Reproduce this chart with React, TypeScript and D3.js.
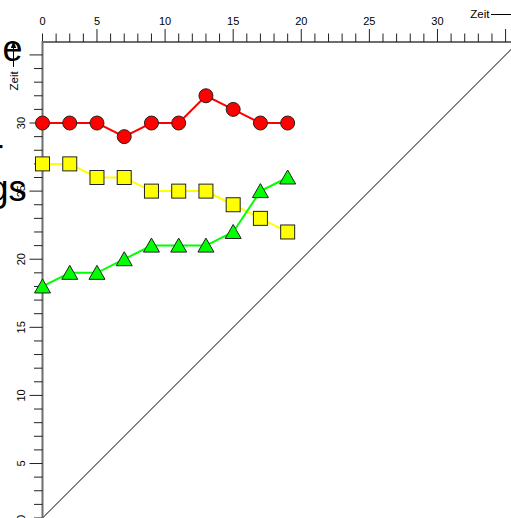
import React from 'react';
import * as d3 from 'd3';

const xValues = [1, 3, 5, 7, 9, 11, 13, 15, 17, 19];
const redValues = [30, 30, 30, 29, 30, 30, 32, 31, 30, 30];
const yellowValues = [27, 27, 26, 26, 25, 25, 25, 24, 23, 22];
const greenValues = [18, 19, 19, 20, 21, 21, 21, 22, 25, 26];
const tickValues = [1, 5, 10, 15, 20, 25, 30];
const tickLabels = ['0', '5', '10', '15', '20', '25', '30'];
const allTicks = d3.range(1, 36);
const axisTitle = 'Zeit';
const leftTexts = ['e', 'r', 'gs'];

const W = 511;
const H = 518;
const FONT = '"Liberation Sans", Arial, sans-serif';

export default function App() {
  const unit = 13.62;
  const left = 42.5;
  const top = 42;
  const bottom = 518;
  const x = d3.scaleLinear().domain([1, 36]).range([left, left + 35 * unit]);
  const y = d3.scaleLinear().domain([1, 1 + (bottom - top) / unit]).range([bottom, top]);

  const line = d3
    .line<number>()
    .x((_, i) => x(xValues[i]))
    .y((d) => y(d));

  const diag = d3
    .line<number>()
    .x((d) => x(d))
    .y((d) => y(d));

  const triPath = (cx: number, cy: number) =>
    `M${cx},${cy - 7.5}L${cx + 8},${cy + 6.5}L${cx - 8},${cy + 6.5}Z`;

  const leftPos = [
    { x: 22.5, y: 61 },
    { x: 3, y: 165 },
    { x: 26.5, y: 201 },
  ];

  return (
    <svg
      width={W}
      height={H}
      style={{ position: 'absolute', left: 0, top: 0, background: '#fff' }}
      fontFamily={FONT}
    >
      <defs>
        <clipPath id="plot">
          <rect x={left} y={top} width={W - left} height={bottom - top} />
        </clipPath>
      </defs>
      <rect x={0} y={0} width={W} height={H} fill="#fff" />

      {/* clipped left texts */}
      {leftTexts.map((t, i) => (
        <text
          key={t}
          x={leftPos[i].x}
          y={leftPos[i].y}
          fontSize={36}
          textAnchor="end"
          fill="#000"
        >
          {t}
        </text>
      ))}

      {/* diagonal */}
      <g clipPath="url(#plot)">
        <path d={diag([1, 36]) || ''} stroke="#000" strokeWidth={1} fill="none" />
      </g>

      {/* top axis */}
      <line x1={left} x2={W} y1={top} y2={top} stroke="#6e6e6e" strokeWidth={2} />
      {allTicks.map((v) => (
        <line
          key={'tx' + v}
          x1={x(v)}
          x2={x(v)}
          y1={top}
          y2={top - (v % 5 === 0 ? 13 : 8.5)}
          stroke="#222"
          strokeWidth={1}
        />
      ))}
      {tickValues.map((v, i) => (
        <text key={'lx' + v} x={x(v)} y={25} fontSize={11} textAnchor="middle" fill="#000">
          {tickLabels[i]}
        </text>
      ))}
      <text x={489.5} y={18} fontSize={11.5} textAnchor="end" fill="#000">
        {axisTitle}
      </text>
      <line x1={491} x2={W + 5} y1={14.5} y2={14.5} stroke="#000" strokeWidth={1} />

      {/* left axis */}
      <line x1={left} x2={left} y1={top - 1} y2={bottom} stroke="#6e6e6e" strokeWidth={2} />
      {allTicks.map((v) => (
        <line
          key={'ty' + v}
          x1={left}
          x2={left - (v % 5 === 0 ? 13 : 8.5)}
          y1={y(v)}
          y2={y(v)}
          stroke="#222"
          strokeWidth={1}
        />
      ))}
      {tickValues.map((v, i) => (
        <text
          key={'ly' + v}
          transform={`translate(24.5,${y(v)}) rotate(-90)`}
          fontSize={11}
          textAnchor="middle"
          fill="#000"
        >
          {tickLabels[i]}
        </text>
      ))}
      <text
        transform={`translate(17.5,90.5) rotate(-90)`}
        fontSize={11.5}
        textAnchor="start"
        fill="#000"
      >
        {axisTitle}
      </text>
      <line x1={13.5} x2={13.5} y1={67} y2={46} stroke="#000" strokeWidth={1} />
      <path d="M13.5,41L10.8,48L16.2,48Z" fill="#000" />

      {/* series */}
      <path d={line(redValues) || ''} stroke="#ff0000" strokeWidth={2} fill="none" />
      {redValues.map((v, i) => (
        <circle
          key={'r' + i}
          cx={x(xValues[i])}
          cy={y(v)}
          r={7}
          fill="#ff0000"
          stroke="#222"
          strokeWidth={1}
        />
      ))}
      <path d={line(yellowValues) || ''} stroke="#ffff00" strokeWidth={2} fill="none" />
      {yellowValues.map((v, i) => (
        <rect
          key={'y' + i}
          x={x(xValues[i]) - 7}
          y={y(v) - 7}
          width={14}
          height={14}
          fill="#ffff00"
          stroke="#222"
          strokeWidth={1}
        />
      ))}
      <path d={line(greenValues) || ''} stroke="#00ff00" strokeWidth={2} fill="none" />
      {greenValues.map((v, i) => (
        <path
          key={'g' + i}
          d={triPath(x(xValues[i]), y(v))}
          fill="#00ff00"
          stroke="#222"
          strokeWidth={1}
        />
      ))}
    </svg>
  );
}
